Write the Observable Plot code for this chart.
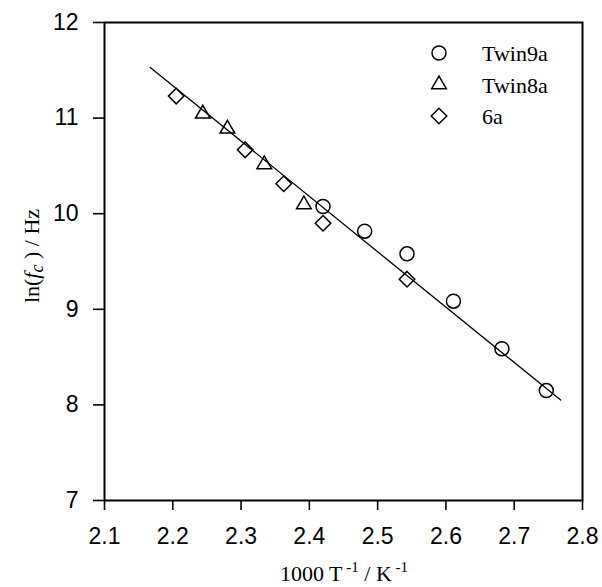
<!DOCTYPE html>
<html><head><meta charset="utf-8">
<script src="https://cdn.jsdelivr.net/npm/d3@7"></script>
<script src="https://cdn.jsdelivr.net/npm/@observablehq/plot@0.6"></script>
<style>
body{margin:0;background:#fff}
#wrap{position:relative;width:602px;height:587px}
#legend{position:absolute;left:0;top:0;pointer-events:none}
</style>
</head><body><div id="wrap"></div>
<script>
// Data
const twin9aX = [2.420, 2.481, 2.543, 2.611, 2.682, 2.747];
const twin9aY = [10.075, 9.817, 9.58, 9.085, 8.587, 8.15];
const twin8aX = [2.244, 2.280, 2.334, 2.392];
const twin8aY = [11.045, 10.888, 10.515, 10.096];
const s6aX = [2.205, 2.306, 2.3625, 2.420, 2.543];
const s6aY = [11.23, 10.668, 10.313, 9.90, 9.315];
const fitX = [2.167, 2.768];
const fitY = [11.53, 8.05];
const xTicks = [2.1, 2.2, 2.3, 2.4, 2.5, 2.6, 2.7, 2.8];
const yTicks = [7, 8, 9, 10, 11, 12];
const seriesNames = ["Twin9a", "Twin8a", "6a"];
const seriesSymbols = ["circle", "triangle2", "diamond2"];

const pts = (xs, ys, name) => xs.map((x, i) => ({x, y: ys[i], name}));
const data = [
  ...pts(twin9aX, twin9aY, seriesNames[0]),
  ...pts(twin8aX, twin8aY, seriesNames[1]),
  ...pts(s6aX, s6aY, seriesNames[2])
];
const fit = fitX.map((x, i) => ({x, y: fitY[i]}));

const chart = Plot.plot({
  width: 602,
  height: 587,
  marginLeft: 104,
  marginRight: 20,
  marginTop: 22,
  marginBottom: 87,
  style: {fontFamily: "'Liberation Sans', Arial, sans-serif", fontSize: "23px", color: "black", background: "white"},
  x: {domain: [2.1, 2.8]},
  y: {domain: [7, 12]},
  symbol: {domain: seriesNames, range: seriesSymbols},
  marks: [
    Plot.frame({stroke: "black", strokeWidth: 2}),
    Plot.axisX({ticks: xTicks, tickSize: 10, tickPadding: 17, tickFormat: d => d.toFixed(1), fontSize: 23, label: null, strokeWidth: 1.6}),
    Plot.axisY({ticks: yTicks, tickSize: 11, tickPadding: 15, tickFormat: d => String(d), fontSize: 23, label: null, strokeWidth: 1.6}),
    Plot.line(fit, {x: "x", y: "y", stroke: "black", strokeWidth: 1.3}),
    Plot.dot(data, {x: "x", y: "y", symbol: "name", r: 7, stroke: "black", strokeWidth: 1.5, fill: "none"})
  ]
});
document.getElementById("wrap").appendChild(chart);

// Axis titles with italic/subscript parts
const svg = d3.select(chart);
const serif = "'Liberation Serif', 'Times New Roman', serif";
const xt = svg.append("text")
  .attr("x", 344).attr("y", 581)
  .attr("text-anchor", "middle")
  .attr("font-family", serif).attr("font-size", 22).attr("fill", "black");
xt.append("tspan").text("1000 T");
xt.append("tspan").attr("dy", -9).attr("font-size", 15).text(" -1");
xt.append("tspan").attr("dy", 9).text(" / K");
xt.append("tspan").attr("dy", -9).attr("font-size", 15).text(" -1");

const yt = svg.append("text")
  .attr("transform", "translate(39,256) rotate(-90)")
  .attr("text-anchor", "middle")
  .attr("font-family", serif).attr("font-size", 22).attr("fill", "black");
yt.append("tspan").text("ln(");
yt.append("tspan").attr("font-style", "italic").text("f");
yt.append("tspan").attr("font-style", "italic").attr("font-size", 18).attr("dy", 4).text("c");
yt.append("tspan").attr("dy", -4).text(" ) / Hz");

// Legend (inside plot, top-right)
const lg = d3.select("#wrap").append("svg").attr("id", "legend").attr("width", 602).attr("height", 587);
const symMap = {circle: d3.symbolCircle, triangle2: d3.symbolTriangle2, diamond2: d3.symbolDiamond2};
seriesNames.forEach((name, i) => {
  const cy = 53 + i * 31.5;
  lg.append("path")
    .attr("d", d3.symbol(symMap[seriesSymbols[i]], Math.PI * 49)())
    .attr("transform", `translate(439,${cy})`)
    .attr("fill", "none").attr("stroke", "black").attr("stroke-width", 1.5);
  lg.append("text").attr("x", 482).attr("y", cy + 8)
    .attr("font-family", serif).attr("font-size", 22).attr("fill", "black").text(name);
});
</script>
</body></html>
